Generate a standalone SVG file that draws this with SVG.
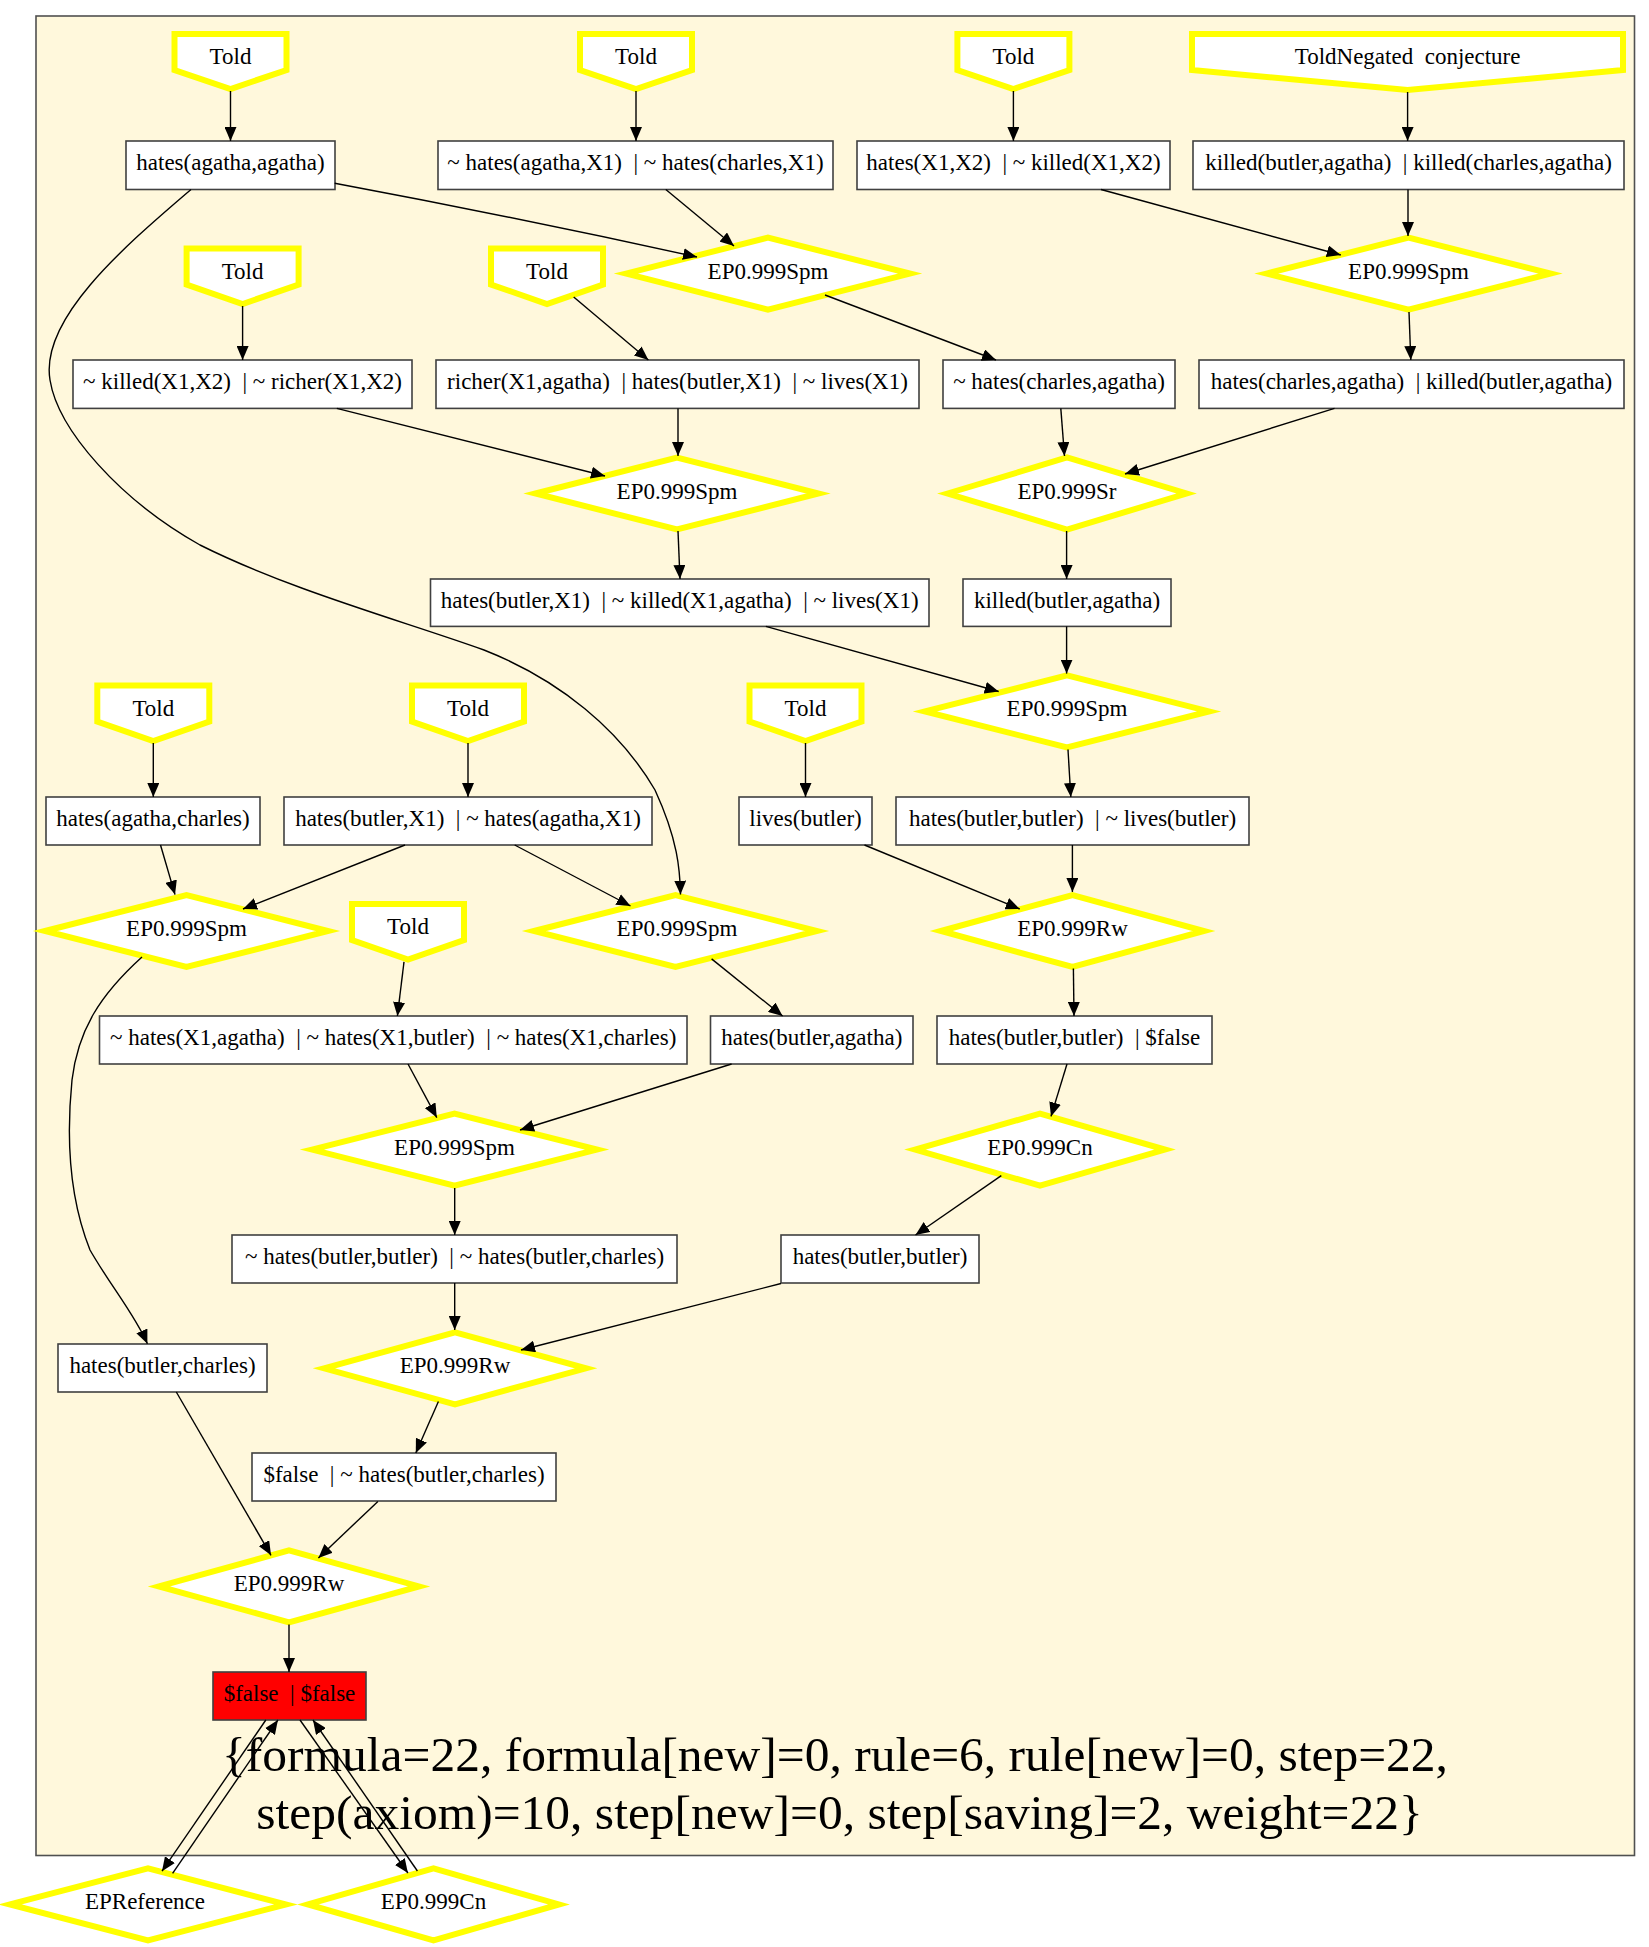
<svg xmlns="http://www.w3.org/2000/svg" width="1649" height="1947" viewBox="0 0 1649 1947">
<style>
text{font-family:"Liberation Serif","Times New Roman",serif;font-size:23px;fill:#000;text-anchor:middle}
.box{fill:#fff;stroke:#404040;stroke-width:1.6}
.red{fill:#ff0000;stroke:#404040;stroke-width:1.6}
.y{fill:#fff;stroke:#ffff00;stroke-width:6;stroke-miterlimit:10}
.e{fill:none;stroke:#000;stroke-width:1.4;marker-end:url(#ah)}
.lbl{font-size:49.5px}
</style>
<defs>
<marker id="ah" viewBox="0 0 14 12" refX="14" refY="6" markerWidth="14" markerHeight="12" markerUnits="userSpaceOnUse" orient="auto">
<path d="M0,0 L14,6 L0,12 z" fill="#000"/>
</marker>
</defs>
<rect width="1649" height="1947" fill="#fff"/>
<g id="cluster">
<rect x="36" y="16" width="1598.5" height="1839.5" fill="#fff8dc" stroke="#505050" stroke-width="1.6"/>
<text class="lbl" x="835" y="1771" xml:space="preserve">{formula=22, formula[new]=0, rule=6, rule[new]=0, step=22,</text>
<text class="lbl" x="839.5" y="1829">step(axiom)=10, step[new]=0, step[saving]=2, weight=22}</text>
</g>
<g id="nodes">
<g id="t1"><polygon class="y" points="174.5,34 286.5,34 286.5,70 230.5,89 174.5,70"/><text x="230.5" y="64">Told</text></g>
<g id="t2"><polygon class="y" points="580,34 692,34 692,70 636,89 580,70"/><text x="636" y="64">Told</text></g>
<g id="t3"><polygon class="y" points="957.4,34 1069.4,34 1069.4,70 1013.4,89 957.4,70"/><text x="1013.4" y="64">Told</text></g>
<g id="tn"><polygon class="y" points="1192,34 1623,34 1623,70 1407.6,90 1192,70"/><text x="1407.6" y="64" xml:space="preserve">ToldNegated  conjecture</text></g>
<g id="b1"><rect class="box" x="126" y="141" width="209" height="48.5"/><text x="230.5" y="170">hates(agatha,agatha)</text></g>
<g id="b2"><rect class="box" x="438" y="141" width="395" height="48.5"/><text x="635.5" y="170" xml:space="preserve">~ hates(agatha,X1)  | ~ hates(charles,X1)</text></g>
<g id="b3"><rect class="box" x="857" y="141" width="313" height="48.5"/><text x="1013.5" y="170" xml:space="preserve">hates(X1,X2)  | ~ killed(X1,X2)</text></g>
<g id="b4"><rect class="box" x="1193" y="141" width="431" height="48.5"/><text x="1408.5" y="170" xml:space="preserve">killed(butler,agatha)  | killed(charles,agatha)</text></g>
<g id="d1"><polygon class="y" points="626,273.6 768,237.6 910,273.6 768,309.6"/><text x="768" y="278.6">EP0.999Spm</text></g>
<g id="d2"><polygon class="y" points="1266.5,273.6 1408.5,237.6 1550.5,273.6 1408.5,309.6"/><text x="1408.5" y="278.6">EP0.999Spm</text></g>
<g id="t4"><polygon class="y" points="186.6,248.5 298.6,248.5 298.6,284.5 242.6,304 186.6,284.5"/><text x="242.6" y="278.5">Told</text></g>
<g id="t5"><polygon class="y" points="491,248.5 603,248.5 603,284.5 547,304 491,284.5"/><text x="547" y="278.5">Told</text></g>
<g id="b5"><rect class="box" x="73" y="360" width="339" height="48.4"/><text x="242.5" y="389" xml:space="preserve">~ killed(X1,X2)  | ~ richer(X1,X2)</text></g>
<g id="b6"><rect class="box" x="436" y="360" width="483" height="48.4"/><text x="677.5" y="389" xml:space="preserve">richer(X1,agatha)  | hates(butler,X1)  | ~ lives(X1)</text></g>
<g id="b7"><rect class="box" x="943" y="360" width="232" height="48.4"/><text x="1059" y="389">~ hates(charles,agatha)</text></g>
<g id="b8"><rect class="box" x="1199" y="360" width="425" height="48.4"/><text x="1411.5" y="389" xml:space="preserve">hates(charles,agatha)  | killed(butler,agatha)</text></g>
<g id="d3"><polygon class="y" points="535.5,493.5 677,457.5 818.5,493.5 677,529.5"/><text x="677" y="498.5">EP0.999Spm</text></g>
<g id="d4"><polygon class="y" points="947.5,493.5 1067,457.5 1186.5,493.5 1067,529.5"/><text x="1067" y="498.5">EP0.999Sr</text></g>
<g id="b9"><rect class="box" x="430.5" y="579" width="498.5" height="47.4"/><text x="679.7" y="607.5" xml:space="preserve">hates(butler,X1)  | ~ killed(X1,agatha)  | ~ lives(X1)</text></g>
<g id="b10"><rect class="box" x="963" y="579" width="208" height="47.4"/><text x="1067" y="607.5">killed(butler,agatha)</text></g>
<g id="d5"><polygon class="y" points="925,711.4 1067,675.4 1209,711.4 1067,747.4"/><text x="1067" y="716.4">EP0.999Spm</text></g>
<g id="t6"><polygon class="y" points="97.3,685.5 209.3,685.5 209.3,721.5 153.3,741 97.3,721.5"/><text x="153.3" y="715.5">Told</text></g>
<g id="t7"><polygon class="y" points="412,685.5 524,685.5 524,721.5 468,741 412,721.5"/><text x="468" y="715.5">Told</text></g>
<g id="t8"><polygon class="y" points="749.5,685.5 861.5,685.5 861.5,721.5 805.5,741 749.5,721.5"/><text x="805.5" y="715.5">Told</text></g>
<g id="b11"><rect class="box" x="46" y="797" width="214" height="48"/><text x="153" y="826">hates(agatha,charles)</text></g>
<g id="b12"><rect class="box" x="284" y="797" width="368" height="48"/><text x="468" y="826" xml:space="preserve">hates(butler,X1)  | ~ hates(agatha,X1)</text></g>
<g id="b13"><rect class="box" x="739" y="797" width="133" height="48"/><text x="805.5" y="826">lives(butler)</text></g>
<g id="b14"><rect class="box" x="896" y="797" width="353" height="48"/><text x="1072.5" y="826" xml:space="preserve">hates(butler,butler)  | ~ lives(butler)</text></g>
<g id="d6"><polygon class="y" points="45,931 186.5,895 328,931 186.5,967"/><text x="186.5" y="936">EP0.999Spm</text></g>
<g id="d7"><polygon class="y" points="534,931 675.5,895 817,931 675.5,967"/><text x="677" y="936">EP0.999Spm</text></g>
<g id="d8"><polygon class="y" points="941,931 1072.5,895 1204,931 1072.5,967"/><text x="1072.5" y="936">EP0.999Rw</text></g>
<g id="t9"><polygon class="y" points="352,904 464,904 464,940 408,959.5 352,940"/><text x="408" y="934">Told</text></g>
<g id="b15"><rect class="box" x="99.5" y="1016" width="587.5" height="48"/><text x="393.2" y="1045" xml:space="preserve">~ hates(X1,agatha)  | ~ hates(X1,butler)  | ~ hates(X1,charles)</text></g>
<g id="b16"><rect class="box" x="710.5" y="1016" width="202.5" height="48"/><text x="811.8" y="1045">hates(butler,agatha)</text></g>
<g id="b17"><rect class="box" x="937" y="1016" width="275" height="48"/><text x="1074.5" y="1045" xml:space="preserve">hates(butler,butler)  | $false</text></g>
<g id="d9"><polygon class="y" points="312,1149.6 454.5,1113.6 597,1149.6 454.5,1185.6"/><text x="454.5" y="1154.6">EP0.999Spm</text></g>
<g id="d10"><polygon class="y" points="915,1149.6 1040,1113.6 1165,1149.6 1040,1185.6"/><text x="1040" y="1154.6">EP0.999Cn</text></g>
<g id="b18"><rect class="box" x="232" y="1235" width="445" height="48"/><text x="454.5" y="1264" xml:space="preserve">~ hates(butler,butler)  | ~ hates(butler,charles)</text></g>
<g id="b19"><rect class="box" x="781" y="1235" width="198" height="48"/><text x="880" y="1264">hates(butler,butler)</text></g>
<g id="b20"><rect class="box" x="58" y="1344" width="209" height="48"/><text x="162.5" y="1373">hates(butler,charles)</text></g>
<g id="d11"><polygon class="y" points="324,1368.3 455,1332.3 586,1368.3 455,1404.3"/><text x="455" y="1373.3">EP0.999Rw</text></g>
<g id="b21"><rect class="box" x="252" y="1453" width="304" height="48"/><text x="404" y="1482" xml:space="preserve">$false  | ~ hates(butler,charles)</text></g>
<g id="d12"><polygon class="y" points="159,1586.4 289,1550.4 419,1586.4 289,1622.4"/><text x="289" y="1591.4">EP0.999Rw</text></g>
<g id="b22"><rect class="red" x="213" y="1672" width="153" height="48"/><text x="289.5" y="1701" xml:space="preserve">$false  | $false</text></g>
<g id="d13"><polygon class="y" points="10,1904.4 148,1868.4 286,1904.4 148,1940.4"/><text x="145" y="1909.4">EPReference</text></g>
<g id="d14"><polygon class="y" points="308,1904.4 433.5,1868.4 559,1904.4 433.5,1940.4"/><text x="433.5" y="1909.4">EP0.999Cn</text></g>
</g>
<g id="edges">
<path class="e" d="M230.5,91 L230.5,141"/>
<path class="e" d="M636,91 L636,141"/>
<path class="e" d="M1013.4,91 L1013.4,141"/>
<path class="e" d="M1407.6,92 L1407.6,141"/>
<path class="e" d="M334.7,183.3 Q520,218 697,257"/>
<path class="e" d="M665.8,189.5 L734,246"/>
<path class="e" d="M191,189.5 C120,250 40,320 50,380 C58,430 120,500 200,545 C290,590 400,620 484,650 C560,680 620,730 655,790 C678,840 680,870 680.5,894.6"/>
<path class="e" d="M1101,189.5 L1340.8,255"/>
<path class="e" d="M1408,189.5 L1408,236"/>
<path class="e" d="M242.6,306 L242.6,360"/>
<path class="e" d="M573.7,297 L648.4,360"/>
<path class="e" d="M825,295 L996,360"/>
<path class="e" d="M336.8,408.4 L605,476"/>
<path class="e" d="M678,408.4 L678,456"/>
<path class="e" d="M1409,312 L1410.8,360"/>
<path class="e" d="M1060.8,408.4 L1064.5,456"/>
<path class="e" d="M1334.5,408.4 L1125,474"/>
<path class="e" d="M678,531 L680,579"/>
<path class="e" d="M1066.6,531 L1066.6,579"/>
<path class="e" d="M765.8,626.4 L998.7,691.5"/>
<path class="e" d="M1066.6,626.4 L1066.6,673.6"/>
<path class="e" d="M153.3,743 L153.3,797"/>
<path class="e" d="M468,743 L468,797"/>
<path class="e" d="M805.5,743 L805.5,797"/>
<path class="e" d="M1068,749.5 L1070.8,797"/>
<path class="e" d="M160.5,845 L175,894.6"/>
<path class="e" d="M405,845 L243,909"/>
<path class="e" d="M514.7,845 L630.5,906"/>
<path class="e" d="M864.5,845 L1019.7,909"/>
<path class="e" d="M1072.4,845 L1072.4,892"/>
<path class="e" d="M404,961.8 L397.4,1016"/>
<path class="e" d="M142,957 C100,995 78,1030 72,1080 C66,1140 70,1200 90,1250 C110,1285 135,1315 147.4,1343.8"/>
<path class="e" d="M711.6,958.9 L782.6,1016"/>
<path class="e" d="M408,1064 L436.8,1117.6"/>
<path class="e" d="M731.6,1064 L520,1130"/>
<path class="e" d="M1073.4,968.4 L1074,1016"/>
<path class="e" d="M1067,1064 L1051,1116.4"/>
<path class="e" d="M454.7,1188 L454.7,1235"/>
<path class="e" d="M1001.3,1175.7 L915.5,1235"/>
<path class="e" d="M454.7,1283 L454.7,1330"/>
<path class="e" d="M781,1283.5 L521,1350"/>
<path class="e" d="M438.4,1401.5 L415.8,1453"/>
<path class="e" d="M176.3,1392 L271,1555.3"/>
<path class="e" d="M377.9,1501.4 L318.4,1558"/>
<path class="e" d="M289,1624.5 L289,1672"/>
<path class="e" d="M265.8,1720 L162,1871.2"/>
<path class="e" d="M172.6,1873.3 L277.9,1720"/>
<path class="e" d="M300,1720 L407.9,1873"/>
<path class="e" d="M417.4,1871 L313,1720"/>
</g>
</svg>
